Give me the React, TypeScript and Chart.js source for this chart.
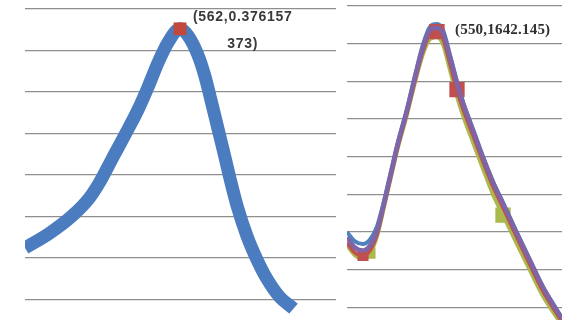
import React, { useEffect, useRef } from "react";
import { Chart, registerables } from "chart.js";
Chart.register(...registerables);

// ---- Left panel data ----
const leftX = [405, 430, 453, 470, 480, 493, 507, 520, 530, 540, 550, 562, 570, 580, 587, 593, 600, 607, 613, 620, 630, 640, 650, 663, 677];
const leftY = [0.112, 0.13, 0.151, 0.172, 0.19, 0.219, 0.25, 0.28, 0.307, 0.336, 0.36, 0.376157373, 0.368, 0.345, 0.32, 0.292, 0.258, 0.224, 0.194, 0.162, 0.126, 0.098, 0.075, 0.053, 0.039];
const leftPeakX = [562];
const leftPeakY = [0.376157373];
const leftLabelLines = ["(562,0.376157", "373)"];
const leftYTicks = [0, 0.4, 0.05]; // min, max, step
const leftXRange = [405, 720];

// ---- Right panel data ----
const rightX = [460, 468, 476, 483, 490, 496, 503, 511, 520, 528, 536, 543, 550, 556, 563, 570, 576, 586, 596, 606, 616, 630, 643, 656, 670, 675];
const rightPurple = [1086, 1059, 1051, 1064, 1104, 1165, 1245, 1336, 1423, 1511, 1591, 1636, 1642, 1628, 1564, 1495, 1442, 1370, 1298, 1232, 1176, 1096, 1024, 953, 891, 870];
const rightBlue = [1100, 1075, 1068, 1080, 1115, 1172, 1250, 1340, 1428, 1516, 1598, 1645, 1652, 1636, 1570, 1500, 1446, 1373, 1300, 1234, 1178, 1098, 1026, 955, 893, 872];
const rightRed = [1072, 1045, 1038, 1052, 1095, 1160, 1240, 1330, 1418, 1504, 1582, 1626, 1632, 1614, 1548, 1478, 1428, 1358, 1288, 1222, 1166, 1086, 1014, 944, 883, 862];
const rightGreen = [1065, 1038, 1030, 1044, 1088, 1154, 1235, 1325, 1412, 1497, 1573, 1612, 1618, 1598, 1530, 1460, 1410, 1338, 1268, 1200, 1145, 1068, 998, 930, 872, 852];
const redMarkers = [2, 12, 15];
const greenMarkers = [3, 20];
const rightLabelPoint = [550, 1642.145];
const rightLabelText = "(550,1642.145)";
const rightYTicks = [800, 1700, 100];
const rightXRange = [460, 675];

const GRID = "#8f8f8f";

function pts(xs: number[], ys: number[]) {
  return xs.map((x, i) => ({ x, y: ys[i] }));
}

function baseScales(xr: number[], yt: number[]) {
  return {
    x: { type: "linear", min: xr[0], max: xr[1], display: false },
    y: {
      type: "linear",
      min: yt[0],
      max: yt[1],
      ticks: { display: false, stepSize: yt[2] },
      grid: { color: GRID, lineWidth: 1.2, drawTicks: false },
      border: { display: false },
    },
  };
}

export default function App() {
  const leftRef = useRef<HTMLCanvasElement>(null);
  const rightRef = useRef<HTMLCanvasElement>(null);

  useEffect(() => {
    const leftLabel = {
      id: "leftLabel",
      afterDatasetsDraw(chart: any) {
        const ctx = chart.ctx;
        const px = chart.scales.x.getPixelForValue(leftPeakX[0]);
        const py = chart.scales.y.getPixelForValue(leftPeakY[0]);
        ctx.save();
        ctx.fillStyle = "#3a3a3a";
        ctx.font = "bold 14px 'Liberation Sans', Arial, sans-serif";
        (ctx as any).letterSpacing = "0.7px";
        ctx.textAlign = "left";
        ctx.textBaseline = "alphabetic";
        const w = ctx.measureText(leftLabelLines[0]).width;
        const x0 = px + 13;
        ctx.fillText(leftLabelLines[0], x0, py - 8);
        ctx.textAlign = "center";
        ctx.fillText(leftLabelLines[1], x0 + w / 2, py + 19);
        ctx.restore();
      },
    };
    const rightLabel = {
      id: "rightLabel",
      afterDatasetsDraw(chart: any) {
        const ctx = chart.ctx;
        const px = chart.scales.x.getPixelForValue(rightLabelPoint[0]);
        const py = chart.scales.y.getPixelForValue(rightLabelPoint[1]);
        ctx.save();
        ctx.fillStyle = "#303030";
        ctx.font = "bold 15px 'Liberation Serif', 'Times New Roman', serif";
        (ctx as any).letterSpacing = "0.2px";
        ctx.textAlign = "left";
        ctx.textBaseline = "alphabetic";
        ctx.fillText(rightLabelText, px + 18, py + 6);
        ctx.restore();
      },
    };

    const left = new Chart(leftRef.current!, {
      type: "scatter",
      data: {
        datasets: [
          {
            data: pts(leftPeakX, leftPeakY),
            showLine: false,
            pointStyle: "rect",
            pointRadius: 9,
            backgroundColor: "#c3473b",
            borderColor: "#c3473b",
            borderWidth: 0,
          },
          {
            data: pts(leftX, leftY),
            showLine: true,
            borderColor: "#4a7cbf",
            borderWidth: 13,
            pointRadius: 0,
            cubicInterpolationMode: "monotone",
            borderJoinStyle: "round",
            clip: 0,
          },
        ],
      } as any,
      options: {
        animation: false,
        responsive: false,
        events: [],
        layout: { padding: { left: 25, right: 5, top: 6, bottom: 5 } },
        plugins: { legend: { display: false }, tooltip: { enabled: false } },
        scales: baseScales(leftXRange, leftYTicks) as any,
      },
      plugins: [leftLabel],
    });

    const markerR = (list: number[], big: number[]) => (c: any) =>
      list.includes(c.dataIndex) ? (big.includes(c.dataIndex) ? 8 : 5) : 0;

    const right = new Chart(rightRef.current!, {
      type: "scatter",
      data: {
        datasets: [
          {
            data: pts(rightX, rightPurple),
            showLine: true,
            borderColor: "#7d65a8",
            borderWidth: 4.5,
            pointRadius: 0,
            cubicInterpolationMode: "monotone",
            clip: 0,
          },
          {
            data: pts(rightX, rightRed),
            showLine: true,
            borderColor: "#c0504d",
            backgroundColor: "#c0504d",
            borderWidth: 4,
            pointStyle: "rect",
            pointRadius: markerR(redMarkers, [12, 15]),
            cubicInterpolationMode: "monotone",
            clip: 0,
          },
          {
            data: pts(rightX, rightBlue),
            showLine: true,
            borderColor: "#4f81bd",
            borderWidth: 4,
            pointRadius: 0,
            cubicInterpolationMode: "monotone",
            clip: 0,
          },
          {
            data: pts(rightX, rightGreen),
            showLine: true,
            borderColor: "#aab84c",
            backgroundColor: "#aab84c",
            borderWidth: 4,
            pointStyle: "rect",
            pointRadius: markerR(greenMarkers, [20]),
            cubicInterpolationMode: "monotone",
            clip: 0,
          },
        ],
      } as any,
      options: {
        animation: false,
        responsive: false,
        events: [],
        layout: { padding: { left: 2, right: 0, top: 6, bottom: 5 } },
        plugins: { legend: { display: false }, tooltip: { enabled: false } },
        scales: baseScales(rightXRange, rightYTicks) as any,
      },
      plugins: [rightLabel],
    });

    return () => {
      left.destroy();
      right.destroy();
    };
  }, []);

  return (
    <div
      style={{
        position: "fixed",
        left: 0,
        top: 0,
        width: 562,
        height: 320,
        overflow: "hidden",
        background: "#ffffff",
      }}
    >
      <canvas ref={leftRef} width={345} height={350} style={{ position: "absolute", left: 0, top: 0, width: 345, height: 350 }} />
      <canvas ref={rightRef} width={217} height={350} style={{ position: "absolute", left: 345, top: 0, width: 217, height: 350 }} />
    </div>
  );
}
